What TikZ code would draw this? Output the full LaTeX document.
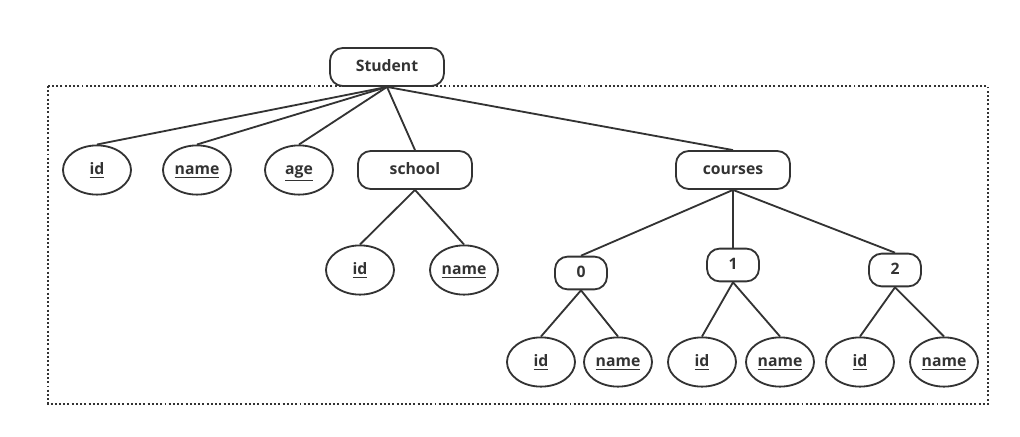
\documentclass[tikz,border=0pt]{standalone}
\usepackage{fontspec}
\setmainfont{Open Sans}
\usetikzlibrary{shapes}
\definecolor{ink}{HTML}{333333}
\tikzset{
 obj/.style={draw=ink, line width=1.3pt, rounded corners=0.32cm, inner sep=0pt,
  minimum width=2.85cm, minimum height=0.95cm, text height=1.6ex, text depth=0.3ex,
  font=\bfseries\fontsize{11.2}{13}\selectfont, text=ink},
 idx/.style={obj, minimum width=1.3cm, minimum height=0.82cm},
 attr/.style={draw=ink, line width=1.3pt, ellipse, inner sep=0pt,
  minimum width=1.7cm, minimum height=1.23cm, text height=1.6ex, text depth=0.3ex,
  font=\bfseries\fontsize{11.2}{13}\selectfont, text=ink},
 link/.style={draw=ink, line width=1.3pt},
}
\newcommand{\key}[1]{\underline{#1}}

\begin{document}
\begin{tikzpicture}[x=0.025cm, y=-0.025cm]
        \useasboundingbox (0, 0) rectangle (1020, 436);
        \draw [ink, line width=1.4pt, dash pattern=on 1.4pt off 1.6pt] (48, 86) rectangle (988, 404);
        % root and first level
        \node [obj] (student) at (387, 67) {Student};
        \node [attr] (id) at (97, 170) {\key{id}};
        \node [attr] (name) at (197, 170) {\key{name}};
        \node [attr] (age) at (299, 170) {\key{age}};
        \node [obj] (school) at (415, 170) {school};
        \node [obj] (courses) at (733, 170) {courses};
        % school
        \node [attr] (schoolid) at (360, 270) {\key{id}};
        \node [attr] (schoolname) at (464, 270) {\key{name}};
        % courses
        \node [idx] (c0) at (581, 273) {0};
        \node [idx] (c1) at (733, 265) {1};
        \node [idx] (c2) at (895, 270) {2};
        \node [attr] (c0id) at (541, 362) {\key{id}};
        \node [attr] (c0name) at (618, 362) {\key{name}};
        \node [attr] (c1id) at (702, 362) {\key{id}};
        \node [attr] (c1name) at (780, 362) {\key{name}};
        \node [attr] (c2id) at (860, 362) {\key{id}};
        \node [attr] (c2name) at (944, 362) {\key{name}};

        \foreach \child in {id, name, age, school, courses}
            \draw [link] (student.south) -- (\child.north);
        \foreach \child in {schoolid, schoolname}
            \draw [link] (school.south) -- (\child.north);
        \foreach \child in {c0, c1, c2}
            \draw [link] (courses.south) -- (\child.north);
        \foreach \i in {0, 1, 2} {
            \draw [link] (c\i.south) -- (c\i id.north);
            \draw [link] (c\i.south) -- (c\i name.north);
        }
    \end{tikzpicture}
\end{document}
